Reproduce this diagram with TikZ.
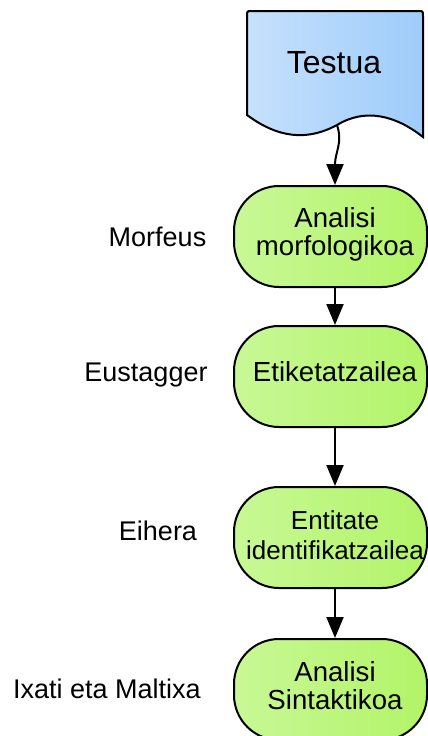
\documentclass[tikz,border=0pt]{standalone}
\usepackage{fontspec}
\setmainfont{Liberation Sans}
\usetikzlibrary{arrows.meta}
\definecolor{docL}{RGB}{198,225,252}
\definecolor{docR}{RGB}{158,204,250}
\definecolor{stepL}{RGB}{200,248,150}
\definecolor{stepR}{RGB}{178,244,104}
\begin{document}
\begin{tikzpicture}[x=1pt,y=-1pt,
  outline/.style={draw=black, line width=2pt},
  stage/.style={outline, rounded corners=45pt, minimum width=193pt,
    minimum height=101pt, left color=stepL, right color=stepR, inner sep=0pt},
  stagetext/.style={font=\fontsize{27.6}{28}\selectfont, align=center, inner sep=0pt},
  tool/.style={font=\fontsize{27}{28}\selectfont, anchor=base, inner sep=0pt},
  flow/.style={line width=2pt, -{Triangle[length=21pt,width=17pt]}}
]
\clip (0,0) rectangle (428,736);

% input document with wavy lower edge
\path[outline, left color=docL, right color=docR]
  (247,115) -- (247,16) .. controls (247,11) .. (252,11) -- (418,11)
  .. controls (423,11) .. (423,16) -- (423,137)
  .. controls (395,115) and (365,108) .. (337,125)
  .. controls (300,145) and (270,132) .. (247,115) -- cycle;
\node[font=\fontsize{32}{32}\selectfont, anchor=base, inner sep=0pt] (doc) at (334,73.5) {Testua};
\coordinate (docout) at (337,125);

% processing stages
\node[stage] (b1) at (330.5,236.5) {};
\node[stage] (b2) at (330.5,376.5) {};
\node[stage] (b3) at (330.5,537.5) {};
\node[stage] (b4) at (330.5,689.5) {};

\node[stagetext] (t1) at (335,234.5) {Analisi\\morfologikoa};
\node[stagetext] (t2) at (335,371.5) {Etiketatzailea};
\node[stagetext, font=\fontsize{26}{30}\selectfont] (t3) at (335,535.5) {Entitate\\identifikatzailea};
\node[stagetext] (t4) at (335,685.5) {Analisi\\Sintaktikoa};

% tools used at each stage
\node[tool] (l1) at (157.5,246) {Morfeus};
\node[tool] (l2) at (146,381) {Eustagger};
\node[tool] (l3) at (158,540) {Eihera};
\node[tool] (l4) at (107,698) {Ixati eta Maltixa};

% flow
\draw[flow] (docout) .. controls (343,143) and (335,152) .. (t1 |- b1.north);
\draw[flow] (t1 |- b1.south) -- (t2 |- b2.north);
\draw[flow] (t2 |- b2.south) -- (t3 |- b3.north);
\draw[flow] (t3 |- b3.south) -- (t4 |- b4.north);
\end{tikzpicture}
\end{document}
